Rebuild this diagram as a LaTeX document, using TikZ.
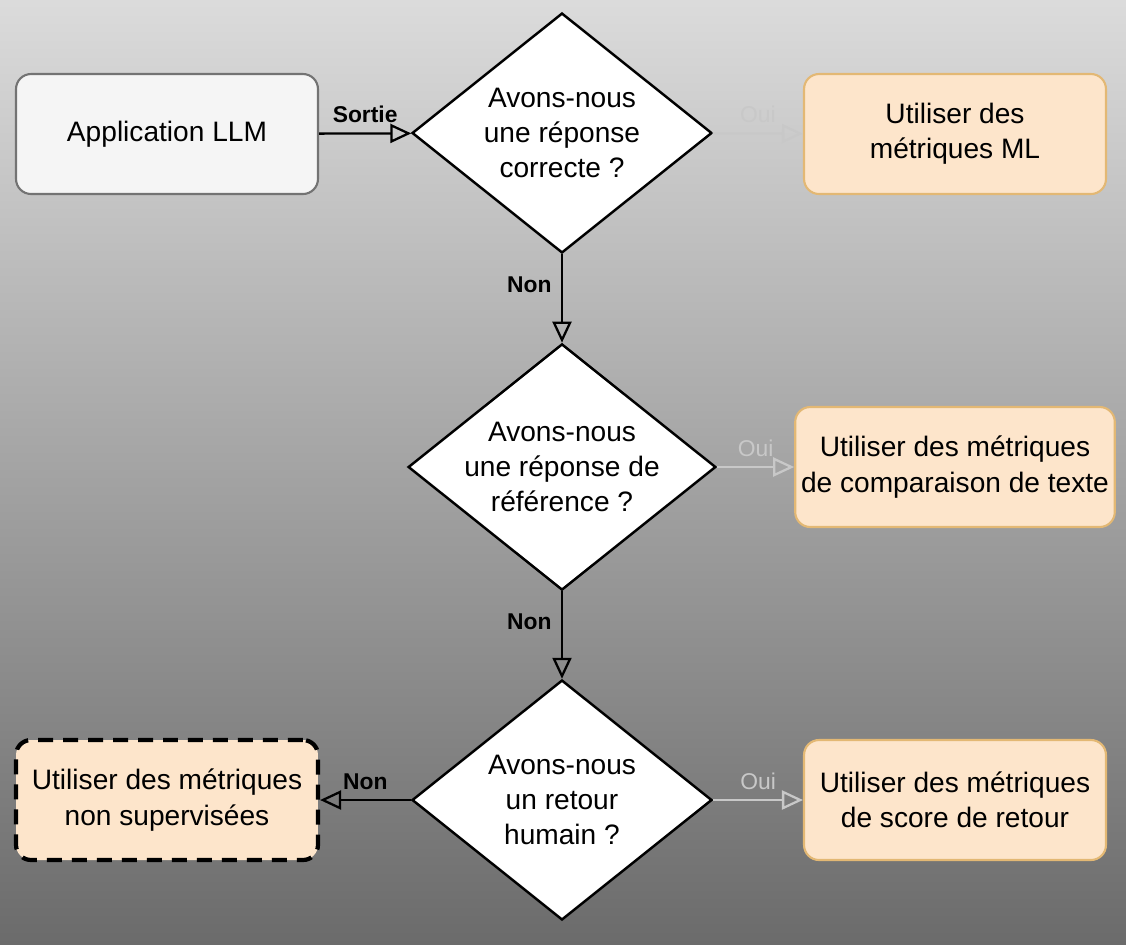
\documentclass[tikz,border=0pt]{standalone}
\usepackage{fontspec}
\setmainfont{Liberation Sans}
\usetikzlibrary{shapes.geometric,arrows.meta,positioning}
\definecolor{boxfill}{HTML}{FDE5CB}
\definecolor{boxline}{HTML}{E3B874}
\definecolor{oui}{HTML}{C8C8C8}
\tikzset{
  decision/.style={diamond,draw=black,fill=white,line width=1.4pt,aspect=1.25,
    minimum width=6cm,minimum height=4.8cm,inner sep=0pt,align=center,font=\fontsize{16}{20}\selectfont},
  result/.style={rectangle,rounded corners=0.3cm,draw=boxline,fill=boxfill,line width=1.2pt,
    minimum width=6.04cm,minimum height=2.4cm,align=center,font=\fontsize{16}{20}\selectfont},
  flow/.style={line width=1.3pt,-{Triangle[open,length=0.42cm,width=0.38cm]}},
  lab/.style={font=\bfseries\fontsize{13}{15}\selectfont},
  ouilab/.style={text=oui,font=\fontsize{13}{15}\selectfont}
}
\begin{document}
\begin{tikzpicture}[x=0.02cm,y=-0.02cm]
  \shade[top color=black!14,bottom color=black!58] (0,0) rectangle (1126,944);
  \useasboundingbox (0,0) rectangle (1126,944);
  % nodes
  \node[rectangle,rounded corners=0.3cm,draw=black!55,fill=black!4,line width=1.2pt,
    minimum width=6.04cm,minimum height=2.4cm,font=\fontsize{16}{20}\selectfont] (app) at (167,134) {Application LLM};
  \node[decision] (q1) at (562,133) {Avons-nous\\une réponse\\correcte ?};
  \node[decision] (q2) at (562,467) {Avons-nous\\une réponse de\\référence ?};
  \node[decision] (q3) at (562,800) {Avons-nous\\un retour\\humain ?};
  \node[result] (ml) at (955,134) {Utiliser des\\métriques ML};
  \node[result] (txt) at (955,467) {Utiliser des métriques\\de comparaison de texte};
  \node[result] (score) at (955,800) {Utiliser des métriques\\de score de retour};
  \node[result,draw=black,line width=2.4pt,dash pattern=on 0.3cm off 0.2cm] (unsup) at (167,800) {Utiliser des métriques\\non supervisées};
  % connectors
  \draw[flow] (app) -- node[lab,above=2pt] {Sortie} (q1);
  \draw[flow,draw=oui] (q1) -- node[ouilab,above=2pt] {Oui} (ml);
  \draw[flow] (q1) -- node[lab,left=2pt,pos=0.35] {Non} (q2);
  \draw[flow,draw=oui] (q2) -- node[ouilab,above=2pt] {Oui} (txt);
  \draw[flow] (q2) -- node[lab,left=2pt,pos=0.35] {Non} (q3);
  \draw[flow,draw=oui] (q3) -- node[ouilab,above=2pt] {Oui} (score);
  \draw[flow] (q3) -- node[lab,above=2pt] {Non} (unsup);
\end{tikzpicture}
\end{document}
